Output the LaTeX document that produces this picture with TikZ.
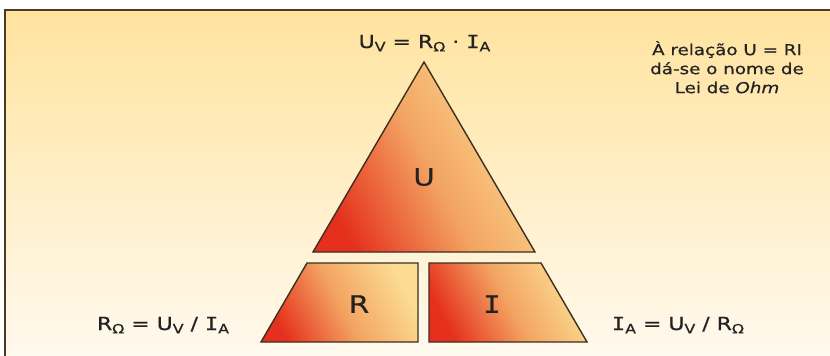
\documentclass[tikz,border=0pt]{standalone}
\usepackage{fontspec}
\setmainfont{DejaVu Sans}
\newfontfamily\widefam[FakeStretch=1.22,FakeBold=0.6]{DejaVu Sans}
\newfontfamily\widemono[FakeStretch=1.22,FakeBold=0.6]{DejaVu Sans Mono}
\newcommand\Iser{{\widemono I}}
\newcommand\lo[1]{\raisebox{-0.35ex}{\fontsize{13}{13}\selectfont #1}}
\definecolor{bgtop}{HTML}{FFE39E}
\definecolor{bgbot}{HTML}{FFF9EE}
\definecolor{shred}{HTML}{E4301C}
\definecolor{shmid}{HTML}{F3A462}
\definecolor{shyel}{HTML}{FCDC92}
\definecolor{edge}{HTML}{3A3020}
\definecolor{frame}{HTML}{4A3A22}
\definecolor{ink}{HTML}{222222}
\tikzset{
  piece/.style={draw=edge, line width=1.4pt, line join=miter,
    bottom color=shred, top color=shyel, middle color=shmid, shading angle=-62},
  big/.style={text=ink, font=\widefam\fontsize{24}{24}\selectfont, inner sep=0pt},
  formula/.style={text=ink, font=\widefam\fontsize{18}{18}\selectfont, inner sep=0pt, anchor=base},
  note/.style={text=ink, font=\widefam\fontsize{15}{19}\selectfont, align=center, inner sep=0pt}
}
\begin{document}
\begin{tikzpicture}[x=1pt,y=-1pt]
\useasboundingbox (0,0) rectangle (830,356);
\fill[white] (0,0) rectangle (830,356);
\shade[top color=bgtop, bottom color=bgbot] (5,10) rectangle (830,356);
\draw[frame, line width=2pt] (830,10) -- (5,10) -- (5,356);
% pieces
\path[piece] (424,62) -- (535,252) -- (313,252) -- cycle;
\path[piece] (307,263) -- (418,263) -- (418,342) -- (261,342) -- cycle;
\path[piece] (429,263) -- (541,263) -- (587,342) -- (429,342) -- cycle;
% letters
\node[big] (U) at (424,177) {U};
\node[big] (R) at (359,304) {R};
\node[big] (I) at (492,304) {\Iser};
% formulas
\node[formula] (fU) at (424.5,48) {U\lo{V} = R\lo{Ω} · \Iser\lo{A}};
\node[formula] (fR) at (163,330) {R\lo{Ω} = U\lo{V} / \Iser\lo{A}};
\node[formula] (fI) at (678,330) {\Iser\lo{A} = U\lo{V} / R\lo{Ω}};
% note
\node[note, anchor=north] (note) at (727,41) {À relação U = RI\\dá-se o nome de\\Lei de {\itshape Ohm}};
\end{tikzpicture}
\end{document}
